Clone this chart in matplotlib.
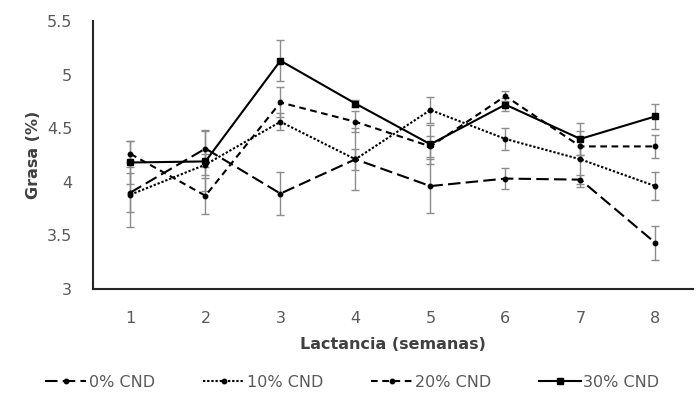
import matplotlib
matplotlib.use('Agg')
import matplotlib.pyplot as plt
import numpy as np

plt.rcParams['font.family'] = ['DejaVu Sans']

# semanas de lactancia
semanas = [1, 2, 3, 4, 5, 6, 7, 8]

# grasa (%) por nivel de CND
g0 = [3.90, 4.31, 3.89, 4.21, 3.96, 4.03, 4.02, 3.43]
g10 = [3.88, 4.16, 4.56, 4.21, 4.67, 4.40, 4.21, 3.96]
g20 = [4.26, 3.87, 4.74, 4.56, 4.33, 4.80, 4.33, 4.33]
g30 = [4.18, 4.19, 5.13, 4.73, 4.35, 4.72, 4.40, 4.61]

# error estandar
e0 = [0.18, 0.17, 0.20, 0.29, 0.25, 0.10, 0.04, 0.16]
e10 = [0.30, 0.10, 0.08, 0.10, 0.12, 0.10, 0.26, 0.13]
e20 = [0.12, 0.17, 0.14, 0.10, 0.10, 0.05, 0.08, 0.11]
e30 = [0.20, 0.28, 0.19, 0.03, 0.18, 0.06, 0.15, 0.12]

etiquetas = ['0% CND', '10% CND', '20% CND', '30% CND']
yticks = [3, 3.5, 4, 4.5, 5, 5.5]
yticklabels = ['3', '3.5', '4', '4.5', '5', '5.5']

fig = plt.figure(figsize=(6.97, 4.04), dpi=100)
ax = fig.add_axes([0.1334, 0.2847, 0.8606, 0.6633])

series = [(g0, e0, (0, (6, 2.5)), 'o', 3.2),
          (g10, e10, (0, (1.1, 0.9)), 'o', 3.2),
          (g20, e20, (0, (3.2, 2.2)), 'o', 3.2),
          (g30, e30, '-', 's', 4.5)]

handles = []
for (vals, errs, ls, mk, ms), lab in zip(series, etiquetas):
    ax.errorbar(semanas, vals, yerr=errs, fmt='none', ecolor='#8c8c8c',
                elinewidth=1.0, capsize=3, capthick=1.0, zorder=2)
    h, = ax.plot(semanas, vals, color='black', linestyle=ls, linewidth=1.5,
                 marker=mk, markersize=ms, markerfacecolor='black',
                 markeredgecolor='black', label=lab, zorder=3)
    handles.append(h)

ax.set_xlim(0.5, 8.5)
ax.set_ylim(3, 5.5)
ax.set_xticks(semanas)
ax.set_xticklabels([str(s) for s in semanas])
ax.set_yticks(yticks)
ax.set_yticklabels(yticklabels)
ax.tick_params(axis='both', length=0, labelsize=11.5, colors='#595959')
ax.tick_params(axis='x', pad=16)
ax.tick_params(axis='y', pad=15)

ax.spines['top'].set_visible(False)
ax.spines['right'].set_visible(False)
ax.spines['left'].set_color('#262626')
ax.spines['bottom'].set_color('#262626')
ax.spines['left'].set_linewidth(1.5)
ax.spines['bottom'].set_linewidth(1.5)

ax.set_xlabel('Lactancia (semanas)', fontsize=11.5, fontweight='bold', color='#404040', labelpad=8)
ax.set_ylabel('Grasa (%)', fontsize=11.5, fontweight='bold', color='#404040', labelpad=4)

leg = fig.legend(handles=handles, labels=etiquetas, loc='lower center', ncol=4,
                 frameon=False, fontsize=11.5, handlelength=2.6, handletextpad=0.15,
                 columnspacing=3.0, bbox_to_anchor=(0.505, 0.0))
for t in leg.get_texts():
    t.set_color('#595959')

fig.savefig('out.png', dpi=100)
